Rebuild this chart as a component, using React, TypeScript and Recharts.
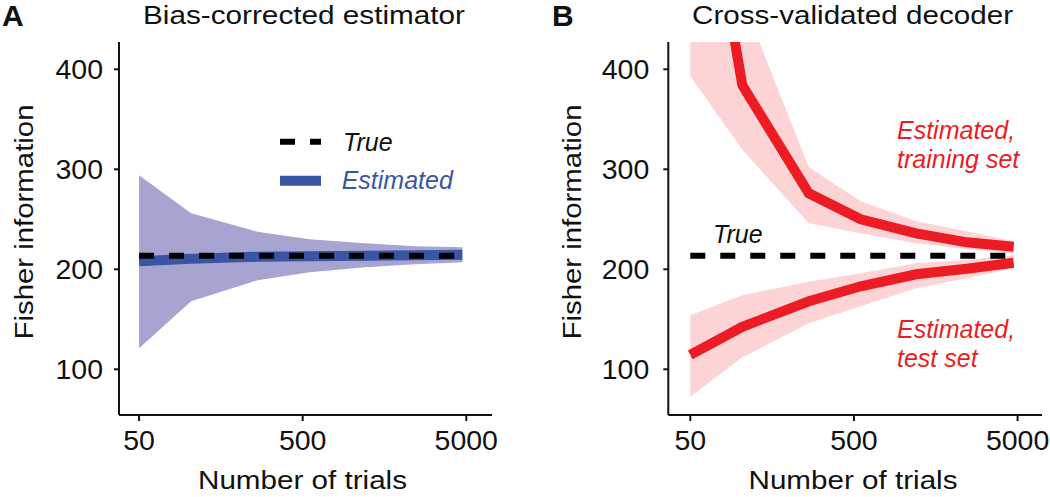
import { ComposedChart, Area, Line, XAxis, YAxis, Customized } from "recharts";

// trial counts (log axis) shared by both panels
const trials = [50, 104, 265, 550, 1200, 2450, 4730];
const trueInfo = 213.6;
const xTicks = [50, 500, 5000];
const yTicks = [100, 200, 300, 400];

// A: bias-corrected estimator
const estA = [208, 210.6, 212.5, 213, 213.5, 214, 214.5];
const lowA = [121, 168, 189, 197, 202, 205, 207];
const highA = [294, 256, 237.5, 230, 226, 223, 222];

// B: cross-validated decoder
const trainMean = [690, 384, 276, 250, 236, 227, 222.5];
const trainLow = [393, 319.5, 246, 236, 226, 220, 216];
const trainHigh = [980, 470, 302, 268, 248, 238, 228];
const testMean = [114.5, 142.5, 168, 183, 195, 200.5, 206.5];
const testLow = [72.6, 112, 146, 163, 181, 191, 201];
const testHigh = [154, 174, 187.6, 196, 206, 209.5, 214];

const dataA = trials.map((n, i) => ({
  n,
  est: estA[i],
  band: [lowA[i], highA[i]],
  truth: trueInfo,
}));

const dataB = trials.map((n, i) => ({
  n,
  train: trainMean[i],
  trainBand: [trainLow[i], trainHigh[i]],
  test: testMean[i],
  testBand: [testLow[i], testHigh[i]],
  truth: trueInfo,
}));

const FONT = "'Liberation Sans', Arial, sans-serif";
const BLUE = "#3a55a4";
const LAVENDER = "#a8a4d1";
const RED = "#ec1c24";
const PINK = "#fcd4d5";

const tickStyle = { fill: "#111", fontSize: 28.5, fontFamily: FONT };

function PanelTexts({ dx, letter, title, ylabelX }: { dx: number; letter: string; title: string; ylabelX: number }) {
  const cx = dx === 0 ? 304 : 852.5 - dx;
  const xl = dx === 0 ? 302.5 : 853 - dx;
  return (
    <g fontFamily={FONT} fill="#111">
      <text x={dx === 0 ? 2 : 552 - dx} y={26} fontSize={30} fontWeight="bold">
        {letter}
      </text>
      <text x={cx} y={24} fontSize={26.5} textAnchor="middle" textLength={dx === 0 ? 322 : 321} lengthAdjust="spacingAndGlyphs">
        {title}
      </text>
      <text x={xl} y={489} fontSize={26.5} textAnchor="middle" textLength={209} lengthAdjust="spacingAndGlyphs">
        Number of trials
      </text>
      <text
        x={ylabelX}
        y={222}
        fontSize={26.5}
        textAnchor="middle"
        textLength={235}
        lengthAdjust="spacingAndGlyphs"
        transform={`rotate(-90 ${ylabelX} 222)`}
      >
        Fisher information
      </text>
    </g>
  );
}

function LegendA() {
  return (
    <g fontFamily={FONT} fontStyle="italic" fontSize={25}>
      <line x1={280} x2={321} y1={141.7} y2={141.7} stroke="#000" strokeWidth={6} strokeDasharray="15 15" />
      <text x={343} y={150.7} fill="#111">True</text>
      <line x1={280} x2={321} y1={180.7} y2={180.7} stroke={BLUE} strokeWidth={10} />
      <text x={341.7} y={189.3} fill={BLUE}>Estimated</text>
    </g>
  );
}

function LabelsB() {
  const dx = 530;
  return (
    <g fontFamily={FONT} fontStyle="italic" fontSize={25}>
      <text x={713 - dx} y={243.3} fill="#111">True</text>
      <text x={897 - dx} y={139.3} fill={RED}>Estimated,</text>
      <text x={897 - dx} y={168.3} fill={RED}>training set</text>
      <text x={897 - dx} y={338.3} fill={RED}>Estimated,</text>
      <text x={897 - dx} y={366.7} fill={RED}>test set</text>
    </g>
  );
}

const axisLine = { stroke: "#111", strokeWidth: 2 };
const tickLine = { stroke: "#111", strokeWidth: 2 };

export default function App() {
  return (
    <div style={{ position: "absolute", left: 0, top: 0, width: 1050, height: 497, background: "#fff" }}>
      <div style={{ position: "absolute", left: 0, top: 0 }}>
        <ComposedChart width={530} height={497} data={dataA} margin={{ top: 42, right: 38, bottom: 0, left: 0 }}>
          <XAxis
            dataKey="n"
            type="number"
            scale="log"
            domain={[37.7, 7181]}
            allowDataOverflow
            ticks={xTicks}
            interval={0}
            height={82}
            tick={tickStyle}
            tickSize={6}
            tickMargin={9}
            axisLine={axisLine}
            tickLine={tickLine}
          />
          <YAxis
            type="number"
            domain={[54.3, 427.3]}
            allowDataOverflow
            ticks={yTicks}
            interval={0}
            width={119}
            tick={tickStyle}
            tickSize={5}
            tickMargin={11}
            axisLine={axisLine}
            tickLine={tickLine}
          />
          <Area dataKey="band" type="linear" stroke="none" fill={LAVENDER} fillOpacity={1} isAnimationActive={false} activeDot={false} />
          <Line dataKey="est" type="linear" stroke={BLUE} strokeWidth={10} dot={false} activeDot={false} isAnimationActive={false} />
          <Line dataKey="truth" type="linear" stroke="#000" strokeWidth={6} strokeDasharray="15 15" dot={false} activeDot={false} isAnimationActive={false} />
          <Customized component={() => <PanelTexts dx={0} letter="A" title="Bias-corrected estimator" ylabelX={33} />} />
          <Customized component={LegendA} />
        </ComposedChart>
      </div>
      <div style={{ position: "absolute", left: 530, top: 0 }}>
        <ComposedChart width={520} height={497} data={dataB} margin={{ top: 42, right: 8, bottom: 0, left: 0 }}>
          <XAxis
            dataKey="n"
            type="number"
            scale="log"
            domain={[36.7, 7047]}
            allowDataOverflow
            ticks={xTicks}
            interval={0}
            height={82}
            tick={tickStyle}
            tickSize={6}
            tickMargin={9}
            axisLine={axisLine}
            tickLine={tickLine}
          />
          <YAxis
            type="number"
            domain={[54.3, 427.3]}
            allowDataOverflow
            ticks={yTicks}
            interval={0}
            width={138.3}
            tick={tickStyle}
            tickSize={5}
            tickMargin={14}
            axisLine={axisLine}
            tickLine={tickLine}
          />
          <Area dataKey="trainBand" type="linear" stroke="none" fill={PINK} fillOpacity={1} isAnimationActive={false} activeDot={false} />
          <Area dataKey="testBand" type="linear" stroke="none" fill={PINK} fillOpacity={1} isAnimationActive={false} activeDot={false} />
          <Line dataKey="truth" type="linear" stroke="#000" strokeWidth={6} strokeDasharray="15 15" dot={false} activeDot={false} isAnimationActive={false} />
          <Line dataKey="train" type="linear" stroke={RED} strokeWidth={10} dot={false} activeDot={false} isAnimationActive={false} />
          <Line dataKey="test" type="linear" stroke={RED} strokeWidth={10} dot={false} activeDot={false} isAnimationActive={false} />
          <Customized component={() => <PanelTexts dx={530} letter="B" title="Cross-validated decoder" ylabelX={581 - 530} />} />
          <Customized component={LabelsB} />
        </ComposedChart>
      </div>
    </div>
  );
}
